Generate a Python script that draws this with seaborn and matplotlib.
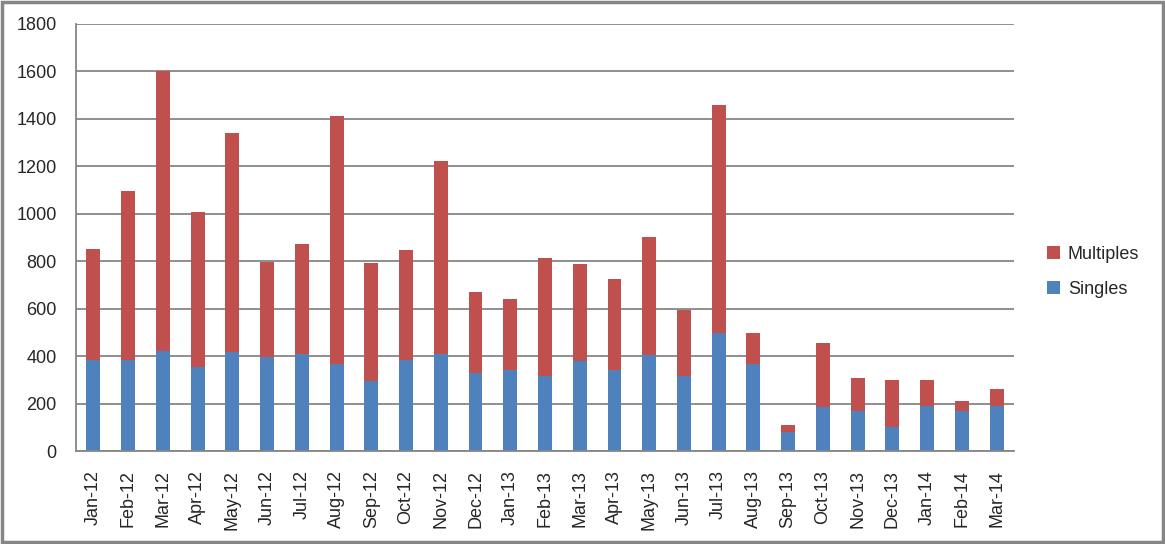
import numpy as np
import pandas as pd
import seaborn as sns
import matplotlib.pyplot as plt
from matplotlib.patches import Rectangle
from matplotlib.ticker import FixedLocator

months = ["Jan-12", "Feb-12", "Mar-12", "Apr-12", "May-12", "Jun-12", "Jul-12",
          "Aug-12", "Sep-12", "Oct-12", "Nov-12", "Dec-12", "Jan-13", "Feb-13",
          "Mar-13", "Apr-13", "May-13", "Jun-13", "Jul-13", "Aug-13", "Sep-13",
          "Oct-13", "Nov-13", "Dec-13", "Jan-14", "Feb-14", "Mar-14"]
singles = [384, 384, 422, 352, 419, 397, 411, 368, 295, 384, 411, 329, 343, 318,
           380, 343, 405, 318, 498, 368, 82, 186, 169, 101, 190, 169, 190]
multiples = [468, 713, 1178, 656, 923, 400, 462, 1046, 498, 464, 813, 342, 298, 496,
             409, 383, 498, 277, 962, 130, 28, 270, 139, 199, 110, 42, 72]

blue = "#4F81BD"
red = "#C0504D"
grey = "#868686"

df = pd.DataFrame({"month": months, "Singles": singles, "Multiples": multiples})
df["total"] = df["Singles"] + df["Multiples"]

sns.set_style("white")
plt.rcParams["font.family"] = ["Liberation Sans", "DejaVu Sans"]

fig = plt.figure(figsize=(11.65, 5.44), dpi=100)
ax = fig.add_axes([76 / 1165, 1 - 451 / 544, (1014 - 76) / 1165, (451 - 24) / 544])

# stacked: draw totals in red, then singles over them in blue
sns.barplot(data=df, x="month", y="total", color=red, width=0.4, saturation=1,
            linewidth=0, label="Multiples", ax=ax)
sns.barplot(data=df, x="month", y="Singles", color=blue, width=0.4, saturation=1,
            linewidth=0, label="Singles", ax=ax)

ax.set_ylim(0, 1800)
ax.set_xlim(-0.5, len(months) - 0.5)
ax.set_yticks(np.arange(0, 1801, 200))
ax.grid(True, axis="y", color=grey, linewidth=1.3)
ax.set_axisbelow(True)
ax.set_xlabel("")
ax.set_ylabel("")

for s in ["top", "right"]:
    ax.spines[s].set_visible(False)
for s in ["left", "bottom"]:
    ax.spines[s].set_color(grey)
    ax.spines[s].set_linewidth(1.3)

ax.tick_params(axis="y", length=5, width=1.3, color=grey, pad=9, labelsize=13)
ax.tick_params(axis="x", which="major", length=0, pad=14, labelsize=13, rotation=90)
ax.xaxis.set_minor_locator(FixedLocator(np.arange(-0.5, len(months), 1)))
ax.tick_params(axis="x", which="minor", length=5.5, width=1.3, color=grey)

handles, labels = ax.get_legend_handles_labels()
ax.legend(handles, labels, loc="center left", bbox_to_anchor=(1047 / 1165, 1 - 272 / 544),
          bbox_transform=fig.transFigure, frameon=False, fontsize=13,
          handlelength=0.7, handleheight=0.7, handletextpad=0.45,
          labelspacing=1.0, borderpad=0, borderaxespad=0)

fig.patches.append(Rectangle((0.002, 0.004), 0.996, 0.992, transform=fig.transFigure,
                             fill=False, edgecolor=grey, linewidth=2.5))

fig.savefig("out.png", dpi=100)
